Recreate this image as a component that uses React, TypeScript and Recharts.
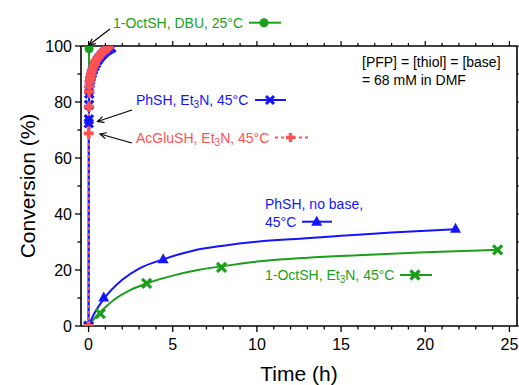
import React from 'react';
import { LineChart, Line, XAxis, YAxis } from 'recharts';

const W = 519;
const H = 385;
const FONT = '"Liberation Sans", Arial, sans-serif';

const GREEN = '#1a9f1a';
const BLUE = '#1414ff';
const RED = '#ff5252';

// 1-OctSH, DBU, 25°C
const octDbuTime = [0, 0.03];
const octDbuConv = [0, 99];

// PhSH, Et3N, 45°C
const phEtTime = [0, 0.01, 0.02, 0.03, 0.04, 0.05, 0.07, 0.1, 0.14, 0.2, 0.27, 0.35, 0.44, 0.54, 0.65, 0.77, 0.9, 1.04, 1.19, 1.35];
const phEtConv = [0, 72.4, 73.8, 79, 83, 84.3, 86.7, 87.8, 89, 90.2, 91.5, 92.7, 93.8, 94.9, 95.8, 96.7, 97.5, 98.2, 98.8, 99.3];

// AcGluSH, Et3N, 45°C
const acEtTime = [0, 0.01, 0.02, 0.03, 0.04, 0.06, 0.09, 0.13, 0.18, 0.24, 0.31, 0.39, 0.48, 0.58, 0.69, 0.81, 0.94, 1.08, 1.17];
const acEtConv = [0, 68.8, 78.3, 83.7, 85.5, 87, 88.3, 89.5, 90.7, 91.9, 93, 94.1, 95.1, 96, 96.9, 97.7, 98.4, 99, 99.4];

const phNoBaseTime = [0, 0.9, 4.43, 21.8];
const phNoBaseConv = [0, 10.2, 23.8, 34.7];
const phNoBaseFitTime = [0, 0.3, 0.9, 2, 3, 4.43, 6.2, 8, 10.1, 12.5, 15, 18, 21.8];
const phNoBaseFitConv = [0, 4, 9.6, 16.5, 20.5, 23.8, 26.9, 28.7, 30.2, 31.2, 32.2, 33.4, 34.6];

// 1-OctSH, Et3N, 45°C
const octEtTime = [0, 0.7, 3.45, 7.9, 24.3];
const octEtConv = [0, 4.4, 15.2, 20.9, 27.2];
const octEtFitTime = [0, 0.3, 0.7, 1.5, 2.5, 3.45, 5, 6.5, 7.9, 10, 13, 16, 20, 24.3];
const octEtFitConv = [0, 2.4, 5, 9.3, 12.9, 15.2, 18, 20, 21.3, 23, 24.4, 25.3, 26.3, 27.2];

const xTicks = Array.from({ length: 26 }, (_, i) => i);
const yTicks = [0, 10, 20, 30, 40, 50, 60, 70, 80, 90, 100];

const xTitle = 'Time (h)';
const yTitle = 'Conversion (%)';
const noteLines = ['[PFP] = [thiol] = [base]', '= 68 mM in DMF'];

const toRows = (t: number[], c: number[]) => t.map((x, i) => ({ x, y: c[i] }));

const octDbu = toRows(octDbuTime, octDbuConv);
const phEt = toRows(phEtTime, phEtConv);
const acEt = toRows(acEtTime, acEtConv);
const phNoBase = toRows(phNoBaseTime, phNoBaseConv);
const phNoBaseFit = toRows(phNoBaseFitTime, phNoBaseFitConv);
const octEt = toRows(octEtTime, octEtConv);
const octEtFit = toRows(octEtFitTime, octEtFitConv);

const XMark = ({ cx, cy, color, r = 4, w = 3 }: any) => (
  <path d={`M${cx - r},${cy - r}L${cx + r},${cy + r}M${cx - r},${cy + r}L${cx + r},${cy - r}`} stroke={color} strokeWidth={w} fill="none" />
);
const PlusMark = ({ cx, cy, color, r = 5, w = 3.8 }: any) => (
  <path d={`M${cx - r},${cy}L${cx + r},${cy}M${cx},${cy - r}L${cx},${cy + r}`} stroke={color} strokeWidth={w} fill="none" />
);
const TriMark = ({ cx, cy, color }: any) => (
  <path d={`M${cx},${cy - 6}L${cx + 5.5},${cy + 4}L${cx - 5.5},${cy + 4}Z`} fill={color} />
);
const CircMark = ({ cx, cy, color }: any) => <circle cx={cx} cy={cy} r={4.5} fill={color} />;

const dotFn = (Comp: any, color: string, extra: any = {}) => (p: any) => {
  if (p.cx == null || p.cy == null) return <g key={p.index} />;
  return (
    <g key={`d${p.index}`}>
      <Comp cx={p.cx} cy={p.cy} color={color} {...extra} />
    </g>
  );
};

const XTickBottom = (p: any) => {
  const { x, y, payload } = p;
  const v = payload.value;
  const major = v % 5 === 0;
  return (
    <g>
      <line x1={x} x2={x} y1={y} y2={y + (major ? 6 : 3.5)} stroke="#000" strokeWidth={1.3} />
      {major && (
        <text x={x} y={y + 18} textAnchor="middle" dominantBaseline="central" fontSize={16} fontFamily={FONT} fill="#000">
          {v}
        </text>
      )}
    </g>
  );
};
const XTickTop = (p: any) => {
  const { x, y, payload } = p;
  const major = payload.value % 5 === 0;
  return <line x1={x} x2={x} y1={y} y2={y - (major ? 5 : 3)} stroke="#000" strokeWidth={1.2} />;
};
const YTickLeft = (p: any) => {
  const { x, y, payload } = p;
  const v = payload.value;
  const major = v % 20 === 0;
  return (
    <g>
      <line x1={x} x2={x - (major ? 6 : 3.5)} y1={y} y2={y} stroke="#000" strokeWidth={1.3} />
      {major && (
        <text x={x - 9} y={y} textAnchor="end" dominantBaseline="central" fontSize={16} fontFamily={FONT} fill="#000">
          {v}
        </text>
      )}
    </g>
  );
};
const YTickRight = (p: any) => {
  const { x, y, payload } = p;
  const major = payload.value % 20 === 0;
  return <line x1={x} x2={x + (major ? 5 : 3)} y1={y} y2={y} stroke="#000" strokeWidth={1.2} />;
};

const Arrow = ({ x1, y1, x2, y2 }: any) => {
  const a = Math.atan2(y2 - y1, x2 - x1);
  const L = 7;
  const s = 0.45;
  const p1 = [x2 - L * Math.cos(a - s), y2 - L * Math.sin(a - s)];
  const p2 = [x2 - L * Math.cos(a + s), y2 - L * Math.sin(a + s)];
  return (
    <g stroke="#000" strokeWidth={1.2} fill="none">
      <line x1={x1} y1={y1} x2={x2} y2={y2} />
      <path d={`M${p1[0]},${p1[1]}L${x2},${y2}L${p2[0]},${p2[1]}`} />
    </g>
  );
};

const Sub3 = ({ text }: { text: string }) => (
  <>
    {text}
    <tspan fontSize={10} dy={4}>3</tspan>
    <tspan dy={-4}>N, 45°C</tspan>
  </>
);

export default function App() {
  const common = { isAnimationActive: false, activeDot: false as any, legendType: 'none' as any };
  return (
    <div style={{ position: 'absolute', left: 0, top: 0, width: W, height: H, background: '#fff' }}>
      <LineChart width={W} height={H} margin={{ top: 45, right: 1, bottom: 29, left: 41 }}>
        <XAxis
          xAxisId="b"
          dataKey="x"
          type="number"
          domain={[-0.45, 25.45]}
          allowDataOverflow
          ticks={xTicks}
          interval={0}
          tickSize={0}
          tickMargin={0}
          height={30}
          tick={<XTickBottom />}
          axisLine={{ stroke: '#000', strokeWidth: 1.6 }}
          tickLine={false}
        />
        <XAxis
          xAxisId="t"
          orientation="top"
          dataKey="x"
          type="number"
          domain={[-0.45, 25.45]}
          allowDataOverflow
          ticks={xTicks}
          interval={0}
          tickSize={0}
          tickMargin={0}
          height={1}
          tick={<XTickTop />}
          axisLine={{ stroke: '#000', strokeWidth: 1.6 }}
          tickLine={false}
        />
        <YAxis
          yAxisId="l"
          type="number"
          domain={[0, 100]}
          allowDataOverflow
          ticks={yTicks}
          interval={0}
          tickSize={0}
          tickMargin={0}
          width={40}
          tick={<YTickLeft />}
          axisLine={{ stroke: '#000', strokeWidth: 1.6 }}
          tickLine={false}
        />
        <YAxis
          yAxisId="r"
          orientation="right"
          type="number"
          domain={[0, 100]}
          allowDataOverflow
          ticks={yTicks}
          interval={0}
          tickSize={0}
          tickMargin={0}
          width={1}
          tick={<YTickRight />}
          axisLine={{ stroke: '#000', strokeWidth: 1.6 }}
          tickLine={false}
        />

        <Line {...common} xAxisId="b" yAxisId="l" data={octEtFit} dataKey="y" type="monotone" stroke={GREEN} strokeWidth={2} dot={false} />
        <Line {...common} xAxisId="b" yAxisId="l" data={octEt} dataKey="y" stroke="none" strokeWidth={0} dot={dotFn(XMark, GREEN, { r: 4.5, w: 3.2 })} />
        <Line {...common} xAxisId="b" yAxisId="l" data={phNoBaseFit} dataKey="y" type="monotone" stroke={BLUE} strokeWidth={2} dot={false} />
        <Line {...common} xAxisId="b" yAxisId="l" data={phNoBase} dataKey="y" stroke="none" strokeWidth={0} dot={dotFn(TriMark, BLUE)} />
        <Line {...common} xAxisId="b" yAxisId="l" data={octDbu} dataKey="y" type="linear" stroke={GREEN} strokeWidth={2} dot={dotFn(CircMark, GREEN)} />
        <Line {...common} xAxisId="b" yAxisId="l" data={phEt} dataKey="y" type="linear" stroke={BLUE} strokeWidth={2} dot={dotFn(XMark, BLUE, { r: 4.2, w: 3.2 })} />
        <Line {...common} xAxisId="b" yAxisId="l" data={acEt} dataKey="y" type="linear" stroke={RED} strokeWidth={2} strokeDasharray="3 3" dot={dotFn(PlusMark, RED)} />
      </LineChart>

      <svg width={W} height={H} style={{ position: 'absolute', left: 0, top: 0, pointerEvents: 'none' }} fontFamily={FONT}>
        {/* axis titles */}
        <text x={299} y={373} textAnchor="middle" dominantBaseline="central" fontSize={21} fill="#000">{xTitle}</text>
        <text x={27} y={186} textAnchor="middle" dominantBaseline="central" fontSize={21} fill="#000" transform="rotate(-90 27 186)">{yTitle}</text>

        {/* note */}
        <text x={362} y={61.5} dominantBaseline="central" fontSize={14} fill="#000">{noteLines[0]}</text>
        <text x={362} y={80} dominantBaseline="central" fontSize={14} fill="#000">{noteLines[1]}</text>

        {/* 1-OctSH, DBU */}
        <text x={113} y={23} dominantBaseline="central" fontSize={14} fill={GREEN}>1-OctSH, DBU, 25°C</text>
        <line x1={249} x2={281} y1={22.7} y2={22.7} stroke={GREEN} strokeWidth={2} />
        <CircMark cx={264} cy={22.7} color={GREEN} />
        <Arrow x1={110} y1={29} x2={89} y2={45} />

        {/* PhSH, Et3N */}
        <text x={136} y={100} dominantBaseline="central" fontSize={14} fill={BLUE}><Sub3 text="PhSH, Et" /></text>
        <line x1={255} x2={286} y1={100} y2={100} stroke={BLUE} strokeWidth={2} />
        <XMark cx={270} cy={100} color={BLUE} r={4} w={3} />
        <Arrow x1={132} y1={110} x2={97.5} y2={121.5} />

        {/* AcGluSH, Et3N */}
        <text x={136} y={138} dominantBaseline="central" fontSize={14} fill={RED}><Sub3 text="AcGluSH, Et" /></text>
        <line x1={275} x2={308} y1={137.5} y2={137.5} stroke={RED} strokeWidth={2} strokeDasharray="3 3" />
        <PlusMark cx={290.5} cy={137.5} color={RED} r={4.5} w={3.5} />
        <Arrow x1={132} y1={143} x2={100} y2={134} />

        {/* PhSH, no base */}
        <text x={265} y={204} dominantBaseline="central" fontSize={14} fill={BLUE}>PhSH, no base,</text>
        <text x={265} y={221.7} dominantBaseline="central" fontSize={14} fill={BLUE}>45°C</text>
        <line x1={302} x2={332} y1={221.7} y2={221.7} stroke={BLUE} strokeWidth={2} />
        <TriMark cx={316.7} cy={221.7} color={BLUE} />

        {/* 1-OctSH, Et3N */}
        <text x={265} y={275} dominantBaseline="central" fontSize={14} fill={GREEN}><Sub3 text="1-OctSH, Et" /></text>
        <line x1={400} x2={432} y1={275} y2={275} stroke={GREEN} strokeWidth={2} />
        <XMark cx={415} cy={275} color={GREEN} r={4.5} w={3.2} />
      </svg>
    </div>
  );
}
